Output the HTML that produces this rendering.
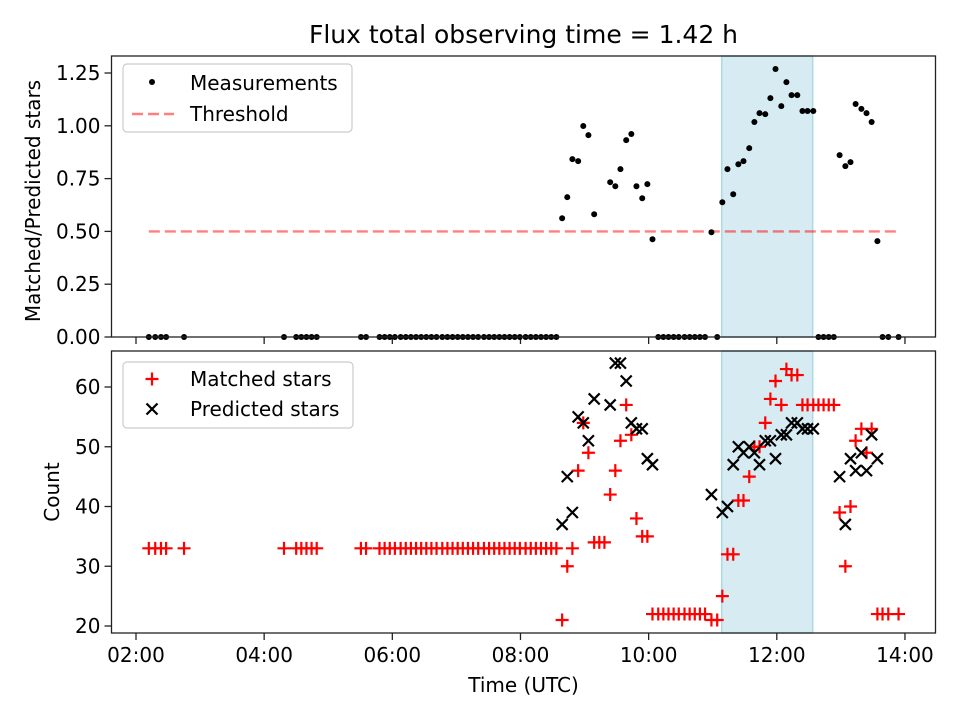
<!DOCTYPE html>
<html><head><meta charset="utf-8"><style>
html,body{margin:0;padding:0;background:#fff;}
svg{display:block;font-family:"DejaVu Sans","Liberation Sans",sans-serif;}
</style></head><body>
<svg id="fig" width="960" height="720" viewBox="0 0 960 720" xmlns="http://www.w3.org/2000/svg">
<rect x="0" y="0" width="960" height="720" fill="#fff"/>
<text x="523.5" y="43" font-size="25" text-anchor="middle" fill="#000">Flux total observing time = 1.42 h</text>
<g id="topPanel"></g>
<g id="botPanel"></g>
<text transform="translate(40,201) rotate(-90)" font-size="20" text-anchor="middle" fill="#000">Matched/Predicted stars</text>
<text transform="translate(59,492) rotate(-90)" font-size="20" text-anchor="middle" fill="#000">Count</text>
<text x="523.5" y="692" font-size="20" text-anchor="middle" fill="#000">Time (UTC)</text>
</svg>
<script>
// ---- data ----
const earlyTimes = [2.20,2.30,2.39,2.47,2.75,4.31,4.50,4.58,4.66,4.74,4.82,5.51,5.59,5.80,5.88,5.96,6.04,6.13,6.21,6.29,6.37,6.45,6.53,6.61,6.69,6.78,6.86,6.94,7.02,7.10,7.18,7.26,7.34,7.43,7.51,7.59,7.67,7.75,7.83,7.91,7.99,8.08,8.16,8.24,8.32,8.40,8.48,8.56];
const midTimes = [8.65,8.73,8.81,8.90,8.98,9.06,9.15,9.23,9.31,9.40,9.48,9.56,9.65,9.73,9.81,9.90,9.98,10.06,10.15,10.23,10.31,10.39,10.47,10.56,10.64,10.72,10.80,10.88,10.98,11.07,11.15,11.23,11.32,11.40,11.48,11.57,11.65,11.73,11.82,11.90,11.98,12.07,12.15,12.23,12.32,12.40,12.48,12.57,12.65,12.73,12.81,12.89,12.98,13.07,13.15,13.23,13.32,13.40,13.48,13.57,13.65,13.74,13.90];
const midMatched = [21,30,33,46,54,49,34,34,34,42,46,51,57,52,38,35,35,22,22,22,22,22,22,22,22,22,22,22,21,21,25,32,32,41,41,45,50,50,54,58,61,57,63,62,62,57,57,57,57,57,57,57,39,30,40,51,53,49,53,22,22,22,22];
const midPredicted = [37,45,39,55,54,51,58,null,null,57,64,64,61,54,53,53,48,47,null,null,null,null,null,null,null,null,null,null,42,null,39,40,47,50,49,50,49,47,51,51,48,52,52,54,54,53,53,53,null,null,null,null,45,37,48,46,49,46,52,48,null,null,null];
const midRatio = [0.562,0.662,0.842,0.833,0.999,0.956,0.581,null,null,0.733,0.714,0.795,0.932,0.961,0.714,0.657,0.724,0.463,0,0,0,0,0,0,0,0,0,0,0.496,0,0.638,0.795,0.676,0.818,0.833,0.894,1.018,1.060,1.055,1.131,1.269,1.093,1.207,1.145,1.145,1.07,1.07,1.07,0,0,0,0,0.861,0.809,0.828,1.103,1.08,1.06,1.018,0.454,0,0,0];
const earlyMatched = 33;
const threshold = 0.5;
const thresholdRange = [2.20, 13.90];
const spanRange = [11.14, 12.56];
const xTickHours = [2,4,6,8,10,12,14];
const xTickLabels = ["02:00","04:00","06:00","08:00","10:00","12:00","14:00"];
const topTicks = [0,0.25,0.5,0.75,1.0,1.25];
const topTickLabels = ["0.00","0.25","0.50","0.75","1.00","1.25"];
const botTicks = [20,30,40,50,60];
const botTickLabels = ["20","30","40","50","60"];

// ---- axes ----
const NS="http://www.w3.org/2000/svg";
const L=111.5,R=935.5;
const X=h=>136+(h-2)*64.08;
const Yt=v=>337-v*211.2;
const Yb=v=>626-(v-20)*5.975;
function mk(tag,attrs,parent){const e=document.createElementNS(NS,tag);for(const k in attrs)e.setAttribute(k,attrs[k]);parent.appendChild(e);return e;}
const topG=document.getElementById('topPanel'), botG=document.getElementById('botPanel');

function panel(g,T,B,yTicks,yLabels,Y,showX,prefix){
  const s=mk('rect',{x:X(spanRange[0]),y:T,width:X(spanRange[1])-X(spanRange[0]),height:B-T,fill:'#add8e6','fill-opacity':0.5,stroke:'#add8e6','stroke-width':1.5},g);
  
  
  yTicks.forEach((v,i)=>{
    const y=Y(v);
    const t=mk('line',{x1:L-7,x2:L,y1:y,y2:y,stroke:'#222','stroke-width':1.3},g);
    
    
    const tx=mk('text',{x:L-11,y:y+7,'font-size':20,'text-anchor':'end',fill:'#000'},g);
    tx.textContent=yLabels[i];
    
    
  });
  xTickHours.forEach((h,i)=>{
    const x=X(h);
    const t=mk('line',{x1:x,x2:x,y1:B,y2:B+7,stroke:'#222','stroke-width':1.3},g);
    
    
    if(showX){
      const tx=mk('text',{x:x,y:B+29,'font-size':20,'text-anchor':'middle',fill:'#000'},g);
      tx.textContent=xTickLabels[i];
      
      
    }
  });
}
panel(topG,56,337,topTicks,topTickLabels,Yt,false,'top');
panel(botG,351,633,botTicks,botTickLabels,Yb,true,'bottom');

const th=mk('line',{x1:X(thresholdRange[0]),x2:X(thresholdRange[1]),y1:Yt(threshold),y2:Yt(threshold),stroke:'#ff0000','stroke-opacity':0.5,'stroke-width':2.4,'stroke-dasharray':'11,5'},topG);



function dot(h,v){
  const c=mk('circle',{cx:X(h),cy:Yt(v),r:3,fill:'#000'},topG);
  
  
}
earlyTimes.forEach(h=>dot(h,0));
midTimes.forEach((h,i)=>{if(midRatio[i]!==null)dot(h,midRatio[i]);});

function plus(g,x,y,name){
  const p=mk('path',{d:`M${x-6.5},${y}H${x+6.5}M${x},${y-6.5}V${y+6.5}`,stroke:'#ff0000','stroke-width':2.2,fill:'none'},g);
  
  
}
function cross(g,x,y,name){
  const p=mk('path',{d:`M${x-5.5},${y-5.5}L${x+5.5},${y+5.5}M${x-5.5},${y+5.5}L${x+5.5},${y-5.5}`,stroke:'#000','stroke-width':2.2,fill:'none'},g);
  
  
}
earlyTimes.forEach(h=>plus(botG,X(h),Yb(earlyMatched),'matched-star-point'));
midTimes.forEach((h,i)=>plus(botG,X(h),Yb(midMatched[i]),'matched-star-point'));
midTimes.forEach((h,i)=>{if(midPredicted[i]!==null)cross(botG,X(h),Yb(midPredicted[i]),'predicted-star-point');});

[[topG,56,337,'top'],[botG,351,633,'bottom']].forEach(([g,T,B,p])=>{
  const f=mk('rect',{x:L,y:T,width:R-L,height:B-T,fill:'none',stroke:'#222','stroke-width':1.3},g);
  
  
});

function legend(g,x,y,w,h,name){
  const r=mk('rect',{x:x,y:y,width:w,height:h,rx:4,fill:'#fff','fill-opacity':0.8,stroke:'#ccc','stroke-width':1.2},g);
  
  
}
legend(topG,123,64,229,68,'top-legend');
let c=mk('circle',{cx:152,cy:82,r:3,fill:'#000'},topG);


let t=mk('text',{x:190,y:90,'font-size':20,fill:'#000'},topG);t.textContent='Measurements';


let ln=mk('line',{x1:132,x2:174,y1:114,y2:114,stroke:'#ff0000','stroke-opacity':0.5,'stroke-width':2.4,'stroke-dasharray':'11,5'},topG);


t=mk('text',{x:190,y:121,'font-size':20,fill:'#000'},topG);t.textContent='Threshold';



legend(botG,123,362,230,66,'bottom-legend');
plus(botG,152,379,'legend-matched-marker');
t=mk('text',{x:190,y:386,'font-size':20,fill:'#000'},botG);t.textContent='Matched stars';


cross(botG,152,409,'legend-predicted-marker');
t=mk('text',{x:190,y:416,'font-size':20,fill:'#000'},botG);t.textContent='Predicted stars';


</script>
</body></html>
